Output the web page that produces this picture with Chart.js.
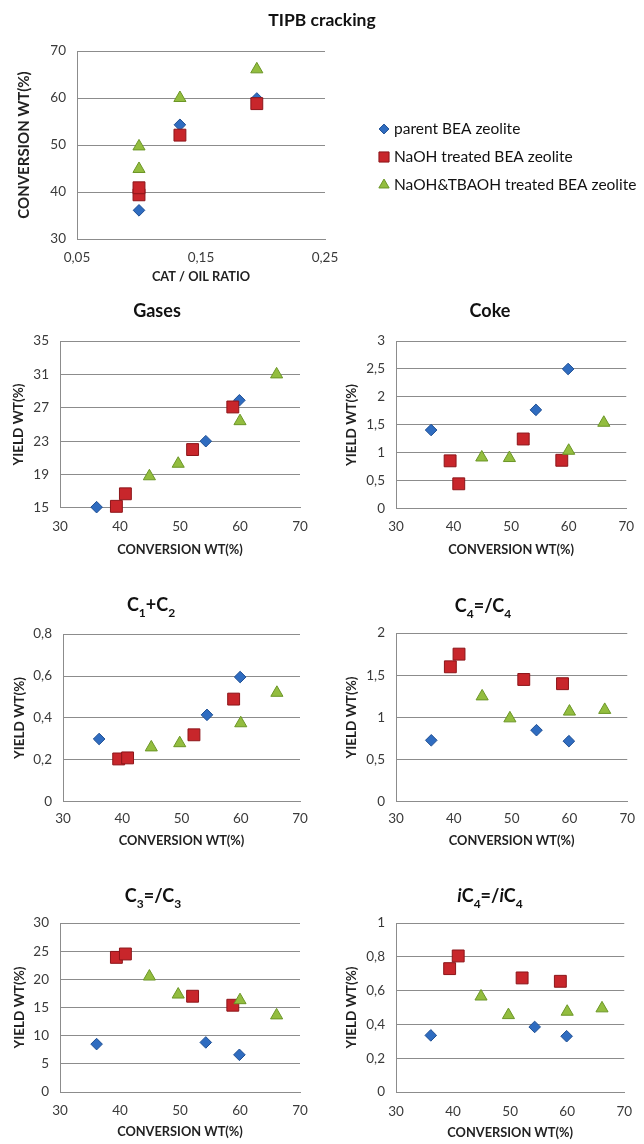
<!DOCTYPE html>
<html>
<head>
<meta charset="utf-8">
<title>TIPB cracking</title>
<script src="https://cdn.jsdelivr.net/npm/chart.js@4.4.1/dist/chart.umd.min.js"></script>
<style>
  body { margin: 0; background: #fff; width: 644px; height: 1144px; position: relative; overflow: hidden; }
  canvas { position: absolute; }
</style>
</head>
<body>
<canvas id="cTop"></canvas>
<canvas id="cGases"></canvas>
<canvas id="cCoke"></canvas>
<canvas id="cC1C2"></canvas>
<canvas id="cC4"></canvas>
<canvas id="cC3"></canvas>
<canvas id="cIC4"></canvas>
<script>
// series
const seriesNames = ['parent BEA zeolite', 'NaOH treated BEA zeolite', 'NaOH&TBAOH treated BEA zeolite'];

// top panel: cat/oil ratio -> conversion
const catOilParent = [0.1, 0.133, 0.195];
const catOilNaoh = [0.1, 0.1, 0.133, 0.195];
const catOilTbaoh = [0.1, 0.1, 0.133, 0.195];
const convParent = [36.1, 54.3, 59.9];
const convNaoh = [39.4, 40.9, 52.1, 58.8];
const convTbaoh = [44.9, 49.7, 60.0, 66.1];

// yields vs conversion (same point order as conv arrays)
const gasesParent = [15.1, 23.0, 27.9];
const gasesNaoh = [15.2, 16.7, 22.0, 27.1];
const gasesTbaoh = [18.8, 20.3, 25.4, 31.0];

const cokeParent = [1.41, 1.77, 2.5];
const cokeNaoh = [0.86, 0.45, 1.25, 0.87];
const cokeTbaoh = [0.92, 0.91, 1.04, 1.54];

const c1c2Parent = [0.30, 0.415, 0.595];
const c1c2Naoh = [0.205, 0.21, 0.32, 0.49];
const c1c2Tbaoh = [0.26, 0.28, 0.375, 0.52];

const c4Parent = [0.73, 0.85, 0.72];
const c4Naoh = [1.6, 1.75, 1.45, 1.4];
const c4Tbaoh = [1.25, 0.99, 1.07, 1.09];

const c3Parent = [8.5, 8.8, 6.6];
const c3Naoh = [23.9, 24.5, 17.0, 15.4];
const c3Tbaoh = [20.5, 17.3, 16.3, 13.6];

const ic4Parent = [0.335, 0.385, 0.33];
const ic4Naoh = [0.73, 0.805, 0.675, 0.655];
const ic4Tbaoh = [0.565, 0.455, 0.475, 0.495];

// tick labels
const catOilTicks = [0.05, 0.15, 0.25];
const conversionTicks = [30, 40, 50, 60, 70];
const gasesTicks = [15, 19, 23, 27, 31, 35];
const cokeTicks = [0, 0.5, 1, 1.5, 2, 2.5, 3];
const c1c2Ticks = [0, 0.2, 0.4, 0.6, 0.8];
const c4Ticks = [0, 0.5, 1, 1.5, 2];
const c3Ticks = [0, 5, 10, 15, 20, 25, 30];
const ic4Ticks = [0, 0.2, 0.4, 0.6, 0.8, 1];

const FONT = 'Lato';
const TICK_SIZE = 13.5;
const gridGray = '#8c8c8c';
const tickColor = '#3a3a3a';
const markers = [
  { pointStyle: 'rectRot', radius: 5.8, fill: '#2f6cc0', edge: '#1f4f93', order: 3 },
  { pointStyle: 'rect', radius: 8.4, fill: '#c8262b', edge: '#8c1519', order: 2 },
  { pointStyle: 'triangle', radius: 7, fill: '#93bd3f', edge: '#6b9626', order: 1 }
];

const pts = (xs, ys) => xs.map((x, i) => ({ x: x, y: ys[i] }));
const fmt = v => Number(Number(v).toFixed(2)).toString().replace('.', ',');

function drawMarker(ctx, m, x, y, r) {
  ctx.fillStyle = m.fill;
  ctx.strokeStyle = m.edge;
  ctx.lineWidth = 1;
  if (Chart.helpers && Chart.helpers.drawPoint) {
    Chart.helpers.drawPoint(ctx, { pointStyle: m.pointStyle, radius: r, rotation: 0, borderWidth: 1 }, x, y);
    return;
  }
  ctx.beginPath();
  if (m.pointStyle === 'rectRot') {
    ctx.moveTo(x, y - r); ctx.lineTo(x + r, y); ctx.lineTo(x, y + r); ctx.lineTo(x - r, y);
  } else if (m.pointStyle === 'rect') {
    const s = r * Math.SQRT1_2;
    ctx.rect(x - s, y - s, 2 * s, 2 * s);
  } else {
    ctx.moveTo(x, y - r); ctx.lineTo(x + r * 0.866, y + r / 2); ctx.lineTo(x - r * 0.866, y + r / 2);
  }
  ctx.closePath();
  ctx.fill();
  ctx.stroke();
}

// title with subscripts / italics, drawn centred at a given spot (canvas coords)
const richTitle = {
  id: 'richTitle',
  afterDraw(chart, args, o) {
    if (!o || !o.segs) return;
    const ctx = chart.ctx;
    const fonts = {
      n: 'bold ' + o.size + 'px ' + FONT,
      s: 'bold ' + Math.round(o.size * 0.68) + 'px ' + FONT,
      i: 'italic bold ' + o.size + 'px ' + FONT
    };
    ctx.save();
    ctx.fillStyle = '#111';
    ctx.textBaseline = 'alphabetic';
    let total = 0;
    o.segs.forEach(s => { ctx.font = fonts[s[1]]; total += ctx.measureText(s[0]).width; });
    let x = o.x - total / 2;
    const base = o.y + o.size * 0.36;
    o.segs.forEach(s => {
      ctx.font = fonts[s[1]];
      ctx.fillText(s[0], x, s[1] === 's' ? base + o.size * 0.28 : base);
      x += ctx.measureText(s[0]).width;
    });
    ctx.restore();
  }
};

const sideLegend = {
  id: 'sideLegend',
  afterDraw(chart, args, o) {
    if (!o || !o.rows) return;
    const ctx = chart.ctx;
    ctx.save();
    ctx.font = o.size + 'px ' + FONT;
    ctx.textBaseline = 'middle';
    chart.data.datasets.forEach((ds, i) => {
      const y = o.rows[i];
      drawMarker(ctx, markers[i], o.markerX, y, markers[i].radius * 0.85);
      ctx.fillStyle = '#111';
      ctx.fillText(ds.label, o.textX, y);
    });
    ctx.restore();
  }
};

// box: canvas rect (page px); area: wanted plot area (page px);
// xTickY / xTitleY: wanted centre lines of the x tick labels and x title (page px)
function makeChart(id, box, area, cfg) {
  const cv = document.getElementById(id);
  cv.width = box.w;
  cv.height = box.h;
  cv.style.left = box.x + 'px';
  cv.style.top = box.y + 'px';
  const tickLH = TICK_SIZE * 1.2;
  const xLH = cfg.xTitleSize * 1.2;
  const yLH = cfg.yTitleSize * 1.2;
  // x scale height = label + 2*padding + title (+ its padding), so solve for those
  const tickPad = cfg.xTickY - area.b - tickLH / 2;
  const titleTop = cfg.xTitleY - (area.b + tickLH + 2 * tickPad + xLH / 2);
  const padBottom = box.y + box.h - (cfg.xTitleY + xLH / 2);
  const xt = cfg.xTicks, yt = cfg.yTicks;
  return new Chart(cv, {
    type: 'scatter',
    data: {
      datasets: cfg.series.map((s, i) => ({
        label: seriesNames[i],
        data: pts(s[0], s[1]),
        pointStyle: markers[i].pointStyle,
        pointRadius: markers[i].radius,
        pointBackgroundColor: markers[i].fill,
        pointBorderColor: markers[i].edge,
        pointBorderWidth: 1,
        order: markers[i].order,
        clip: false
      }))
    },
    options: {
      responsive: false,
      animation: false,
      devicePixelRatio: 1,
      events: [],
      layout: { padding: { left: 0, bottom: padBottom, top: area.t - box.y, right: box.x + box.w - area.r } },
      plugins: {
        legend: { display: false },
        tooltip: { enabled: false },
        richTitle: cfg.title,
        sideLegend: cfg.legend || false
      },
      scales: {
        x: {
          type: 'linear',
          min: xt[0],
          max: xt[xt.length - 1],
          afterBuildTicks: s => { s.ticks = xt.map(v => ({ value: v })); },
          grid: { display: false, drawTicks: false },
          border: { display: true, color: gridGray, width: 1 },
          ticks: { padding: tickPad, color: tickColor, font: { family: FONT, size: TICK_SIZE }, callback: fmt, maxRotation: 0, minRotation: 0, autoSkip: false },
          title: {
            display: true, text: cfg.xTitle, color: '#222',
            font: { family: FONT, size: cfg.xTitleSize, weight: 'bold' },
            padding: { top: titleTop, bottom: 0 }
          }
        },
        y: {
          type: 'linear',
          min: yt[0],
          max: yt[yt.length - 1],
          afterBuildTicks: s => { s.ticks = yt.map(v => ({ value: v })); },
          afterFit: s => { s.width = area.l - box.x; },
          grid: { color: gridGray, lineWidth: 1, drawTicks: false },
          border: { display: true, color: gridGray, width: 1 },
          ticks: { padding: 11, color: tickColor, font: { family: FONT, size: TICK_SIZE }, callback: fmt },
          title: {
            display: true, text: cfg.yTitle, color: '#222',
            font: { family: FONT, size: cfg.yTitleSize, weight: 'bold' },
            padding: { top: cfg.yTitleX - box.x - yLH / 2, bottom: 0 }
          }
        }
      }
    },
    plugins: [richTitle, sideLegend]
  });
}

const yieldTitle = 'YIELD WT(%)';
const convTitle = 'CONVERSION WT(%)';

makeChart('cTop', { x: 0, y: 0, w: 644, h: 292 }, { l: 77, t: 51, r: 325, b: 239 }, {
  series: [[catOilParent, convParent], [catOilNaoh, convNaoh], [catOilTbaoh, convTbaoh]],
  xTicks: catOilTicks, yTicks: conversionTicks,
  xTitle: 'CAT / OIL RATIO', xTitleSize: 12.8, xTickY: 258, xTitleY: 277,
  yTitle: convTitle, yTitleSize: 15, yTitleX: 24,
  title: { segs: [['TIPB cracking', 'n']], x: 322, y: 20, size: 17.5 },
  legend: { rows: [129, 157, 185], markerX: 384, textX: 394, size: 15.5 }
});

const small = [
  { id: 'cGases', box: { x: 0, y: 292, w: 320, h: 266 }, area: { l: 60, t: 341, r: 300, b: 508 },
    series: [[convParent, gasesParent], [convNaoh, gasesNaoh], [convTbaoh, gasesTbaoh]], yTicks: gasesTicks,
    title: { segs: [['Gases', 'n']], x: 157, y: 19 }, xTickY: 527, xTitleY: 550, yTitleX: 19 },
  { id: 'cCoke', box: { x: 320, y: 292, w: 324, h: 266 }, area: { l: 396, t: 341, r: 633, b: 509 },
    series: [[convParent, cokeParent], [convNaoh, cokeNaoh], [convTbaoh, cokeTbaoh]], yTicks: cokeTicks,
    title: { segs: [['Coke', 'n']], x: 170, y: 19 }, xTickY: 527, xTitleY: 550, yTitleX: 352 },
  { id: 'cC1C2', box: { x: 0, y: 558, w: 320, h: 292 }, area: { l: 63, t: 634, r: 300, b: 802 },
    series: [[convParent, c1c2Parent], [convNaoh, c1c2Naoh], [convTbaoh, c1c2Tbaoh]], yTicks: c1c2Ticks,
    title: { segs: [['C', 'n'], ['1', 's'], ['+C', 'n'], ['2', 's']], x: 151, y: 47 }, xTickY: 819, xTitleY: 841, yTitleX: 20 },
  { id: 'cC4', box: { x: 320, y: 558, w: 324, h: 292 }, area: { l: 396, t: 633, r: 633, b: 802 },
    series: [[convParent, c4Parent], [convNaoh, c4Naoh], [convTbaoh, c4Tbaoh]], yTicks: c4Ticks,
    title: { segs: [['C', 'n'], ['4', 's'], ['=/C', 'n'], ['4', 's']], x: 163, y: 48 }, xTickY: 819, xTitleY: 841, yTitleX: 352 },
  { id: 'cC3', box: { x: 0, y: 852, w: 320, h: 292 }, area: { l: 60, t: 923, r: 300, b: 1092 },
    series: [[convParent, c3Parent], [convNaoh, c3Naoh], [convTbaoh, c3Tbaoh]], yTicks: c3Ticks,
    title: { segs: [['C', 'n'], ['3', 's'], ['=/C', 'n'], ['3', 's']], x: 153, y: 44 }, xTickY: 1111, xTitleY: 1132, yTitleX: 20 },
  { id: 'cIC4', box: { x: 320, y: 852, w: 324, h: 292 }, area: { l: 396, t: 923, r: 633, b: 1092 },
    series: [[convParent, ic4Parent], [convNaoh, ic4Naoh], [convTbaoh, ic4Tbaoh]], yTicks: ic4Ticks,
    title: { segs: [['i', 'i'], ['C', 'n'], ['4', 's'], ['=/', 'n'], ['i', 'i'], ['C', 'n'], ['4', 's']], x: 170, y: 44 }, xTickY: 1112, xTitleY: 1133, yTitleX: 352 }
];

small.forEach(p => {
  makeChart(p.id, p.box, p.area, {
    series: p.series,
    xTicks: conversionTicks, yTicks: p.yTicks,
    xTitle: convTitle, xTitleSize: 12.8, xTickY: p.xTickY, xTitleY: p.xTitleY,
    yTitle: yieldTitle, yTitleSize: 13.5, yTitleX: p.yTitleX,
    title: Object.assign({ size: 18 }, p.title)
  });
});
</script>
</body>
</html>
